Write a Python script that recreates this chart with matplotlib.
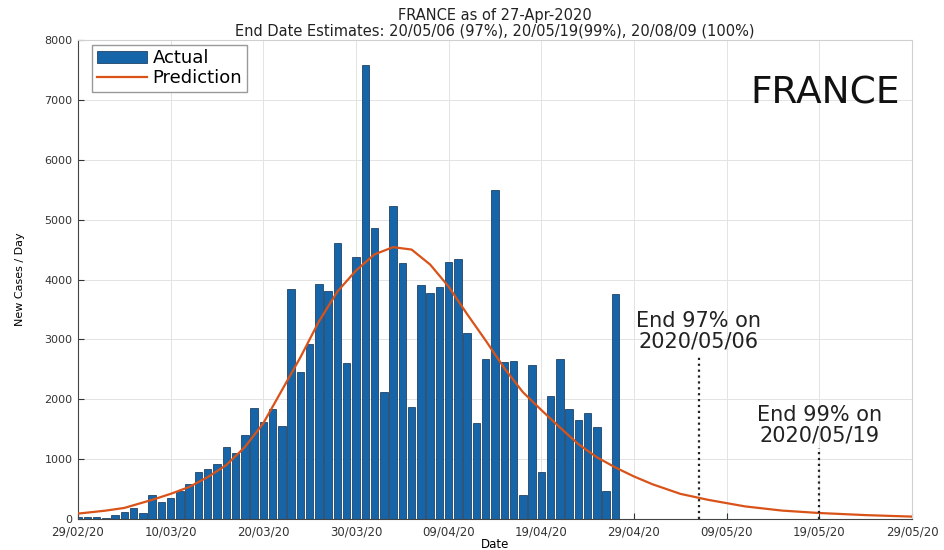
import numpy as np
import pandas as pd
import matplotlib
matplotlib.use("Agg")
import matplotlib.pyplot as plt
import matplotlib.dates as mdates

# daily new cases, 29/02/2020 .. 27/04/2020
actual = [30, 40, 35, 20, 60, 120, 180, 95, 405, 285,
          355, 465, 580, 780, 830, 920, 1200, 1100, 1400, 1860,
          1620, 1840, 1560, 3840, 2450, 2930, 3920, 3810, 4610, 2600,
          4380, 7580, 4860, 2120, 5230, 4270, 1870, 3910, 3780, 3880,
          4290, 4340, 3110, 1610, 2670, 5500, 2630, 2640, 405, 2570,
          785, 2050, 2670, 1830, 1650, 1770, 1540, 465, 3760]
start = pd.Timestamp("2020-02-29")

# fitted curve, sampled as (days since 29/02, cases/day)
pred_day = [0, 3, 5, 8, 10, 12, 14, 16, 18, 20, 22, 24, 26, 28, 30, 32, 34, 36,
            38, 40, 42, 44, 46, 48, 50, 52, 54, 56, 58, 60, 62, 65, 68, 72, 76,
            80, 85, 90]
pred_val = [90, 140, 185, 320, 420, 535, 700, 900, 1200, 1600, 2150, 2700,
            3300, 3800, 4150, 4420, 4540, 4500, 4250, 3880, 3420, 2980, 2520,
            2120, 1820, 1530, 1250, 1030, 860, 710, 580, 420, 320, 210, 140,
            100, 65, 40]

end_dates = ["2020-05-06", "2020-05-19"]
end_labels = ["End 97% on\n2020/05/06", "End 99% on\n2020/05/19"]
end_line_top = [2700, 1180]
end_text_y = [2800, 1230]

dates = pd.date_range(start, periods=len(actual), freq="D")
pred_dates = [start + pd.Timedelta(days=d) for d in pred_day]
xticks = pd.date_range(start, periods=10, freq="10D")

fig = plt.figure(figsize=(9.44, 5.5), dpi=100)
ax = fig.add_axes([78 / 944, 31 / 550, 834 / 944, 479 / 550])

bars = ax.bar(dates, actual, width=0.8, color="#1565a8", edgecolor="#0d2e4f",
              linewidth=0.5, label="Actual", zorder=2)
line, = ax.plot(pred_dates, pred_val, color="#D95319", lw=1.6, label="Prediction", zorder=3)

for d, top, lab, ty in zip(end_dates, end_line_top, end_labels, end_text_y):
    ax.vlines(pd.Timestamp(d), 0, top, colors="#222222", linestyles=":", lw=1.6, zorder=4)
    ax.text(pd.Timestamp(d), ty, lab, ha="center", va="bottom", fontsize=15,
            color="#222222", linespacing=1.0)

ax.text(0.985, 0.925, "FRANCE", transform=ax.transAxes, ha="right", va="top",
        fontsize=27, color="#111111")

ax.set_xlim(xticks[0], xticks[-1])
ax.set_ylim(0, 8000)
ax.set_xticks(xticks)
ax.xaxis.set_major_formatter(mdates.DateFormatter("%d/%m/%y"))
ax.set_yticks(np.arange(0, 8001, 1000))
ax.tick_params(axis="x", direction="in", length=4, labelsize=8.5, colors="#333333", pad=5)
ax.tick_params(axis="y", direction="in", length=4, labelsize=8, colors="#333333", pad=4)
ax.grid(True, color="#e3e3e3", lw=0.7, zorder=0)
ax.set_axisbelow(True)
for s in ["left", "bottom"]:
    ax.spines[s].set_color("#444444")
for s in ["top", "right"]:
    ax.spines[s].set_color("#d0d0d0")

ax.set_xlabel("Date", fontsize=8.5, labelpad=-1)
ax.set_ylabel("New Cases / Day", fontsize=8, labelpad=14)
ax.set_title("FRANCE as of 27-Apr-2020\n"
             "End Date Estimates: 20/05/06 (97%), 20/05/19(99%), 20/08/09 (100%)",
             fontsize=10.5, linespacing=1.1, pad=3, color="#222222")

ax.legend([bars, line], ["Actual", "Prediction"], loc="upper left",
          bbox_to_anchor=(0.017, 0.99), borderaxespad=0,
          fontsize=13, handlelength=2.8, handletextpad=0.3, borderpad=0.25,
          labelspacing=0.1, fancybox=False, framealpha=1, edgecolor="#999999")

fig.savefig("out.png", dpi=100)
